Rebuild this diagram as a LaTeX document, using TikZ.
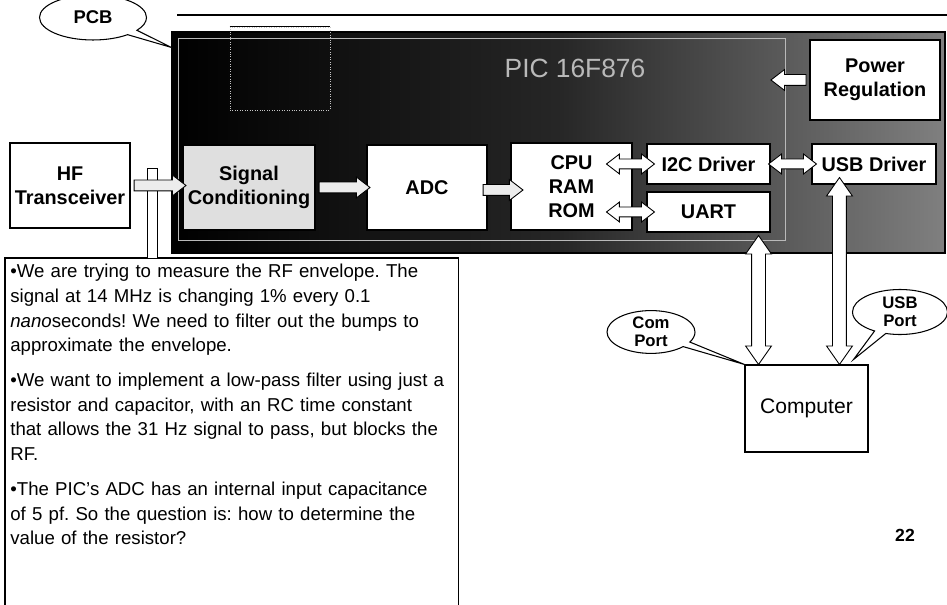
\documentclass[tikz,border=0pt]{standalone}
\usepackage{fontspec}
\setmainfont{Liberation Sans}
\usetikzlibrary{shapes.arrows, shapes.callouts, calc}
\frenchspacing

\newcommand{\hollowlink}[4][hollow]{%
  \path let \p1=#3, \p2=#4, \n1={veclen(\x2-\x1,\y2-\y1)}, \n2={atan2(\y2-\y1,\x2-\x1)} in
    node[#1, minimum height=\n1, rotate=\n2] (#2) at ($(\p1)!0.5!(\p2)$) {};%
}

\begin{document}
\begin{tikzpicture}[
  every node/.style={font=\fontsize{11.3}{13.6}\selectfont},
  block/.style={rectangle, draw=black, fill=white, line width=0.6pt, inner sep=0pt, align=center, font=\fontsize{11.3}{13.6}\selectfont\bfseries},
  hollow/.style={single arrow, draw=black, fill=white, line width=0.5pt, inner xsep=0pt, inner ysep=0.1cm, single arrow head extend=0.1cm, single arrow tip angle=75},
  hollowboth/.style={double arrow, draw=black, fill=white, line width=0.5pt, inner xsep=0pt, inner ysep=0.09cm, double arrow head extend=0.1cm, double arrow tip angle=75},
  bigboth/.style={hollowboth, inner ysep=0.13cm, double arrow head extend=0.12cm, double arrow tip angle=70},
  bubble/.style={ellipse callout, draw=black, fill=white, line width=0.6pt, inner sep=0pt, align=center, font=\fontsize{9.5}{10.5}\selectfont\bfseries},
  note/.style={rectangle, inner xsep=0.1cm, inner ysep=0.12cm, text width=8.86cm, align=left, font=\fontsize{10.6}{14}\selectfont},
]
\path[use as bounding box, clip] (0,0) rectangle (18.94,12.1);

% title rule
\draw[line width=1.2pt] (3.54,11.8) -- (18.94,11.8);

% === PCB BOARD ===
\node[rectangle, draw=black, line width=0.6pt, inner sep=0pt, left color=black, right color=black!50, middle color=black!85, minimum width=15.46cm, minimum height=4.42cm] (pcb) at (11.17,9.25) {};
\node[rectangle, draw=gray!55, line width=0.5pt, inner sep=0pt, minimum width=12.14cm, minimum height=4.04cm] (chip) at (9.63,9.32) {};
\node[rectangle, draw=gray!45, line width=0.4pt, densely dotted, inner sep=0pt, minimum width=2cm, minimum height=1.66cm] (header) at (5.6,10.73) {};
\draw[line width=0.6pt] (header.north west) -- (header.north east);
\node[text=gray!55, font=\fontsize{15}{18}\selectfont] (piclabel) at (11.5,10.74) {PIC 16F876};

% === BLOCKS ===
\node[block, minimum width=2.4cm, minimum height=1.7cm] (hf) at (1.4,8.39) {HF\\Transceiver};
\node[block, fill=gray!25, minimum width=2.64cm, minimum height=1.7cm] (sig) at (4.98,8.35) {Signal\\Conditioning};
\node[block, minimum width=2.4cm, minimum height=1.7cm] (adc) at (8.54,8.35) {ADC};
\node[block, minimum width=2.42cm, minimum height=1.74cm] (cpu) at (11.43,8.37) {CPU\\RAM\\ROM};
\node[block, minimum width=2.46cm, minimum height=0.8cm] (i2c) at (14.17,8.82) {I2C Driver};
\node[block, minimum width=2.46cm, minimum height=0.8cm] (uart) at (14.17,7.86) {UART};
\node[block, minimum width=2.48cm, minimum height=0.8cm] (usb) at (17.48,8.82) {USB Driver};
\node[block, minimum width=2.6cm, minimum height=1.6cm] (power) at (17.5,10.5) {Power\\Regulation};
\node[block, font=\fontsize{12}{14}\selectfont, minimum width=2.46cm, minimum height=1.74cm] (computer) at (16.13,3.93) {Computer};

% === NOTES ===
\node[note, anchor=north west] (notes) at (0.1,6.94) {%
•We are trying to measure the RF envelope. The\\
signal at 14 MHz is changing 1\% every 0.1\\
\textit{nano}seconds! We need to filter out the bumps to\\
approximate the envelope.\\[6pt]
•We want to implement a low-pass filter using just a\\
resistor and capacitor, with an RC time constant\\
that allows the 31 Hz signal to pass, but blocks the\\
RF.\\[6pt]
•The PIC's ADC has an internal input capacitance\\
of 5 pf. So the question is: how to determine the\\
value of the resistor?};
\draw[line width=0.6pt] (notes.north west |- 0,-0.3) -- (notes.north west) -- (notes.north east) -- (notes.north east |- 0,-0.3);

% tap from the signal line
\coordinate (tap) at ($(hf.east)!0.5!(hf.east -| sig.west)$);
\draw[line width=0.5pt, fill=white] ($(tap)+(-0.19,0.35)$) rectangle ($(tap |- notes.north)+(0.01,0)$);

% === ARROWS ===
\hollowlink[hollow, fill=gray!15]{a1}{(hf.east)}{(hf.east -| sig.west)}
\hollowlink[hollow, fill=gray!15]{a2}{(sig.east)}{(sig.east -| adc.west)}
\hollowlink[hollow, fill=gray!15]{a3}{($(adc.east)+(-0.16,-0.05)$)}{($(adc.east -| cpu.west)+(0.18,-0.05)$)}
\hollowlink[hollowboth]{a4}{($(i2c.west)+(-0.8,0)$)}{($(i2c.west)+(0.16,0)$)}
\hollowlink[hollowboth]{a5}{($(uart.west)+(-0.8,0)$)}{($(uart.west)+(0.16,0)$)}
\hollowlink[hollowboth]{a6}{($(i2c.east)+(-0.04,0)$)}{($(usb.west)+(0.1,0)$)}
\hollowlink[hollow]{a7}{(power.west)}{($(power.west)+(-0.7,0)$)}
\coordinate (uartdn) at ($(uart.south east)+(-0.24,-0.06)$);
\coordinate (compup1) at (uartdn |- computer.north);
\hollowlink[bigboth]{a8}{(uartdn)}{(compup1)}
\coordinate (usbdn) at ($(usb.south west)+(0.56,0.14)$);
\coordinate (compup2) at (usbdn |- computer.north);
\hollowlink[bigboth]{a9}{(usbdn)}{(compup2)}

% === CALLOUTS ===
\node[bubble, minimum width=2.14cm, minimum height=0.9cm, font=\fontsize{10.5}{12}\selectfont\bfseries, callout absolute pointer={($(pcb.north west)+(0,-0.32)$)}] (pcbtag) at (1.86,11.75) {PCB};
\node[bubble, minimum width=1.76cm, minimum height=0.8cm, callout absolute pointer={(computer.north west)}] (comtag) at (13.02,5.46) {Com\\Port};
\node[bubble, minimum width=1.9cm, minimum height=0.9cm, callout absolute pointer={($(computer.north east)+(-0.3,0.1)$)}] (usbtag) at (18.0,5.86) {USB\\Port};

\node[font=\fontsize{10}{12}\selectfont\bfseries] (pagenum) at (18.1,1.4) {22};
\end{tikzpicture}
\end{document}
